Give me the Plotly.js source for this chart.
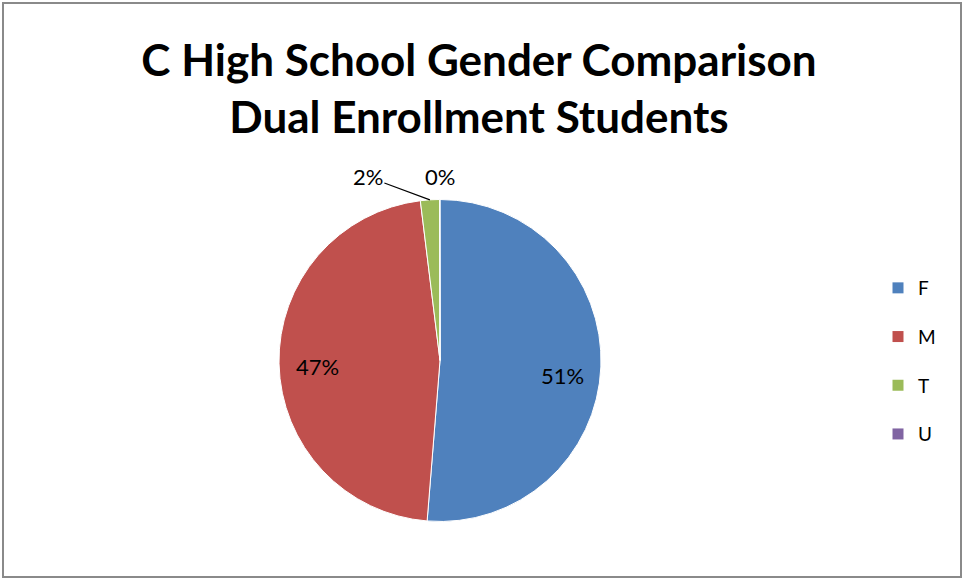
<!DOCTYPE html>
<html><head><meta charset="utf-8">
<script src="https://cdn.plot.ly/plotly-3.0.1.min.js"></script>
<style>
html,body{margin:0;padding:0;background:#fff;}
#wrap{position:relative;width:964px;height:581px;}
#chart{width:964px;height:581px;}
#frame{position:absolute;left:2px;top:2px;width:956px;height:572px;border:2px solid #8a8a8a;pointer-events:none;}
</style></head>
<body>
<div id="wrap"><div id="chart"></div><div id="frame"></div></div>
<script>
const categories = ['F', 'M', 'T', 'U'];
const shares = [51.3, 46.8, 1.9, 0.05];
const colors = ['#4F81BD', '#C0504D', '#9BBB59', '#8064A2'];
const titleText = 'C High School Gender Comparison<br>Dual Enrollment Students';

const W = 964, H = 581;
const cx = 440, cy = 360.5, r = 161;

const pie = {
  type: 'pie',
  labels: categories,
  values: shares,
  sort: false,
  direction: 'clockwise',
  rotation: 0,
  marker: {colors: colors, line: {color: '#ffffff', width: 1}},
  textinfo: 'none',
  automargin: false,
  showlegend: false,
  hoverinfo: 'none',
  domain: {x: [(cx - r) / W, (cx + r) / W], y: [(H - cy - r) / H, (H - cy + r) / H]}
};

// percentage labels placed from the data: slice midpoint angle (clockwise from 12 o'clock)
const total = shares.reduce((a, b) => a + b, 0);
let acc = 0;
const labelFont = {family: 'Lato, sans-serif', size: 22, color: '#000'};
const annotations = [];
shares.forEach((v, i) => {
  const mid = (acc + v / 2) / total * 2 * Math.PI;
  acc += v;
  const pctText = Math.round(v / total * 100) + '%';
  const big = v / total > 0.1;
  const rad = big ? 0.76 * r : r;
  const px = cx + rad * Math.sin(mid);
  const py = cy - rad * Math.cos(mid);
  const a = {xref: 'paper', yref: 'paper', x: px / W, y: 1 - py / H, text: pctText, font: labelFont};
  if (big) {
    Object.assign(a, {showarrow: false, xanchor: 'center', yanchor: 'middle', yshift: i === 0 ? -10 : -3});
  } else if (i === 2) {
    Object.assign(a, {showarrow: true, arrowhead: 0, arrowwidth: 1.2, arrowcolor: '#000', ax: -62, ay: -23, standoff: 0});
  } else {
    Object.assign(a, {showarrow: false, xanchor: 'center', yanchor: 'middle', yshift: 23});
  }
  annotations.push(a);
});

const legendTraces = categories.map((c, i) => ({
  type: 'scatter', x: [null], y: [null], mode: 'markers', name: c,
  legendgroup: 'g' + i,
  marker: {symbol: 'square', size: 11, color: colors[i]},
  hoverinfo: 'none'
}));

const layout = {
  width: W, height: H,
  margin: {l: 0, r: 0, t: 0, b: 0},
  paper_bgcolor: '#fff', plot_bgcolor: '#fff',
  title: {
    text: titleText,
    font: {family: 'Lato, sans-serif', size: 44, color: '#000', weight: 'bold'},
    x: 479 / W, xanchor: 'center',
    y: 1 - 76 / H, yanchor: 'top'
  },
  xaxis: {visible: false, domain: [0.99, 1]},
  yaxis: {visible: false, domain: [0.99, 1]},
  showlegend: true,
  legend: {
    x: 878 / W, xanchor: 'left',
    y: 1 - 269 / H, yanchor: 'top',
    tracegroupgap: 21,
    font: {family: 'Lato, sans-serif', size: 19, color: '#000'},
    itemwidth: 30
  },
  annotations: annotations
};

Plotly.newPlot('chart', [pie].concat(legendTraces), layout, {displayModeBar: false, staticPlot: true});
</script>
</body></html>
